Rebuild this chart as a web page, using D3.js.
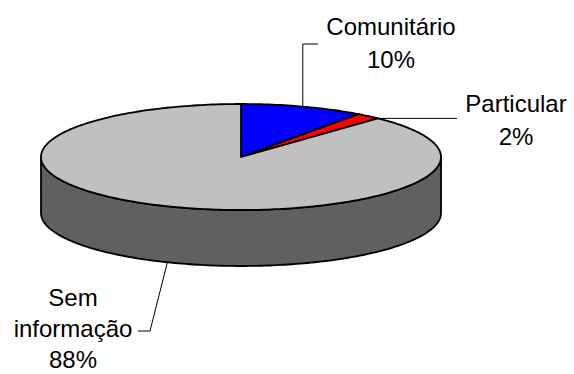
<!DOCTYPE html>
<html><head><meta charset="utf-8">
<script src="https://cdn.jsdelivr.net/npm/d3@7"></script>
<style>
html,body{margin:0;padding:0;background:#fff;}
svg{display:block;}
text{font-family:Arial,"Liberation Sans",sans-serif;font-size:24px;fill:#000;}
</style></head>
<body>
<svg id="chart" width="574" height="374"></svg>
<script>
const categories = ["Comunitário", "Particular", "Sem informação"];
const values = [10, 2, 88];
const percentLabels = ["10%", "2%", "88%"];
const colors = ["#0000ff", "#ff0000", "#c0c0c0"];
const sideColor = "#606060";

const svg = d3.select("#chart");
const cx = 241, cy = 157, rx = 200, ry = 53, depth = 56;

const pie = d3.pie().sort(null).value(d => d)(values);

const pt = (a, dy = 0) => [cx + rx * Math.sin(a), cy - ry * Math.cos(a) + dy];
function arcPts(a0, a1, dy = 0) {
  const n = Math.max(2, Math.ceil(Math.abs(a1 - a0) / 0.02));
  return d3.range(n + 1).map(i => pt(a0 + (a1 - a0) * i / n, dy));
}
const line = d3.line();

// side wall (front half)
const sideTop = arcPts(Math.PI / 2, 3 * Math.PI / 2);
const sideBot = arcPts(3 * Math.PI / 2, Math.PI / 2, depth);
svg.append("path")
  .attr("d", line(sideTop.concat(sideBot)) + "Z")
  .attr("fill", sideColor).attr("stroke", "#000").attr("stroke-width", 1.8)
  .attr("stroke-linejoin", "round");

// top faces
svg.selectAll("path.slice").data(pie).join("path")
  .attr("class", "slice")
  .attr("d", d => line([[cx, cy]].concat(arcPts(d.startAngle, d.endAngle))) + "Z")
  .attr("fill", (d, i) => colors[i])
  .attr("stroke", "#000").attr("stroke-width", 1.8)
  .attr("stroke-linejoin", "round");

// leader lines & labels
const mid = d => (d.startAngle + d.endAngle) / 2;
const labelSpecs = [
  { anchor: [391, 35], gap: 33, leader: d => { const p = pt(mid(d)); return [p, [p[0], 44], [318, 44]]; } },
  { anchor: [516, 112], gap: 33, leader: d => { const p = pt(d.endAngle); return [p, [457, p[1]]]; } },
  { anchor: [73, 306], gap: 31, leader: d => { const p = pt(mid(d), depth); return [p, [150, 331], [138, 331]]; } }
];

pie.forEach((d, i) => {
  const s = labelSpecs[i];
  svg.append("path").attr("d", line(s.leader(d)))
    .attr("fill", "none").attr("stroke", "#000").attr("stroke-width", 1);
  const words = i === 2 ? ["Sem", "informação"] : [categories[i]];
  const lines = words.concat([percentLabels[i]]);
  const t = svg.append("text").attr("text-anchor", "middle");
  lines.forEach((w, k) => {
    t.append("tspan").attr("x", s.anchor[0]).attr("y", s.anchor[1] + k * s.gap).text(w);
  });
});
</script>
</body></html>
